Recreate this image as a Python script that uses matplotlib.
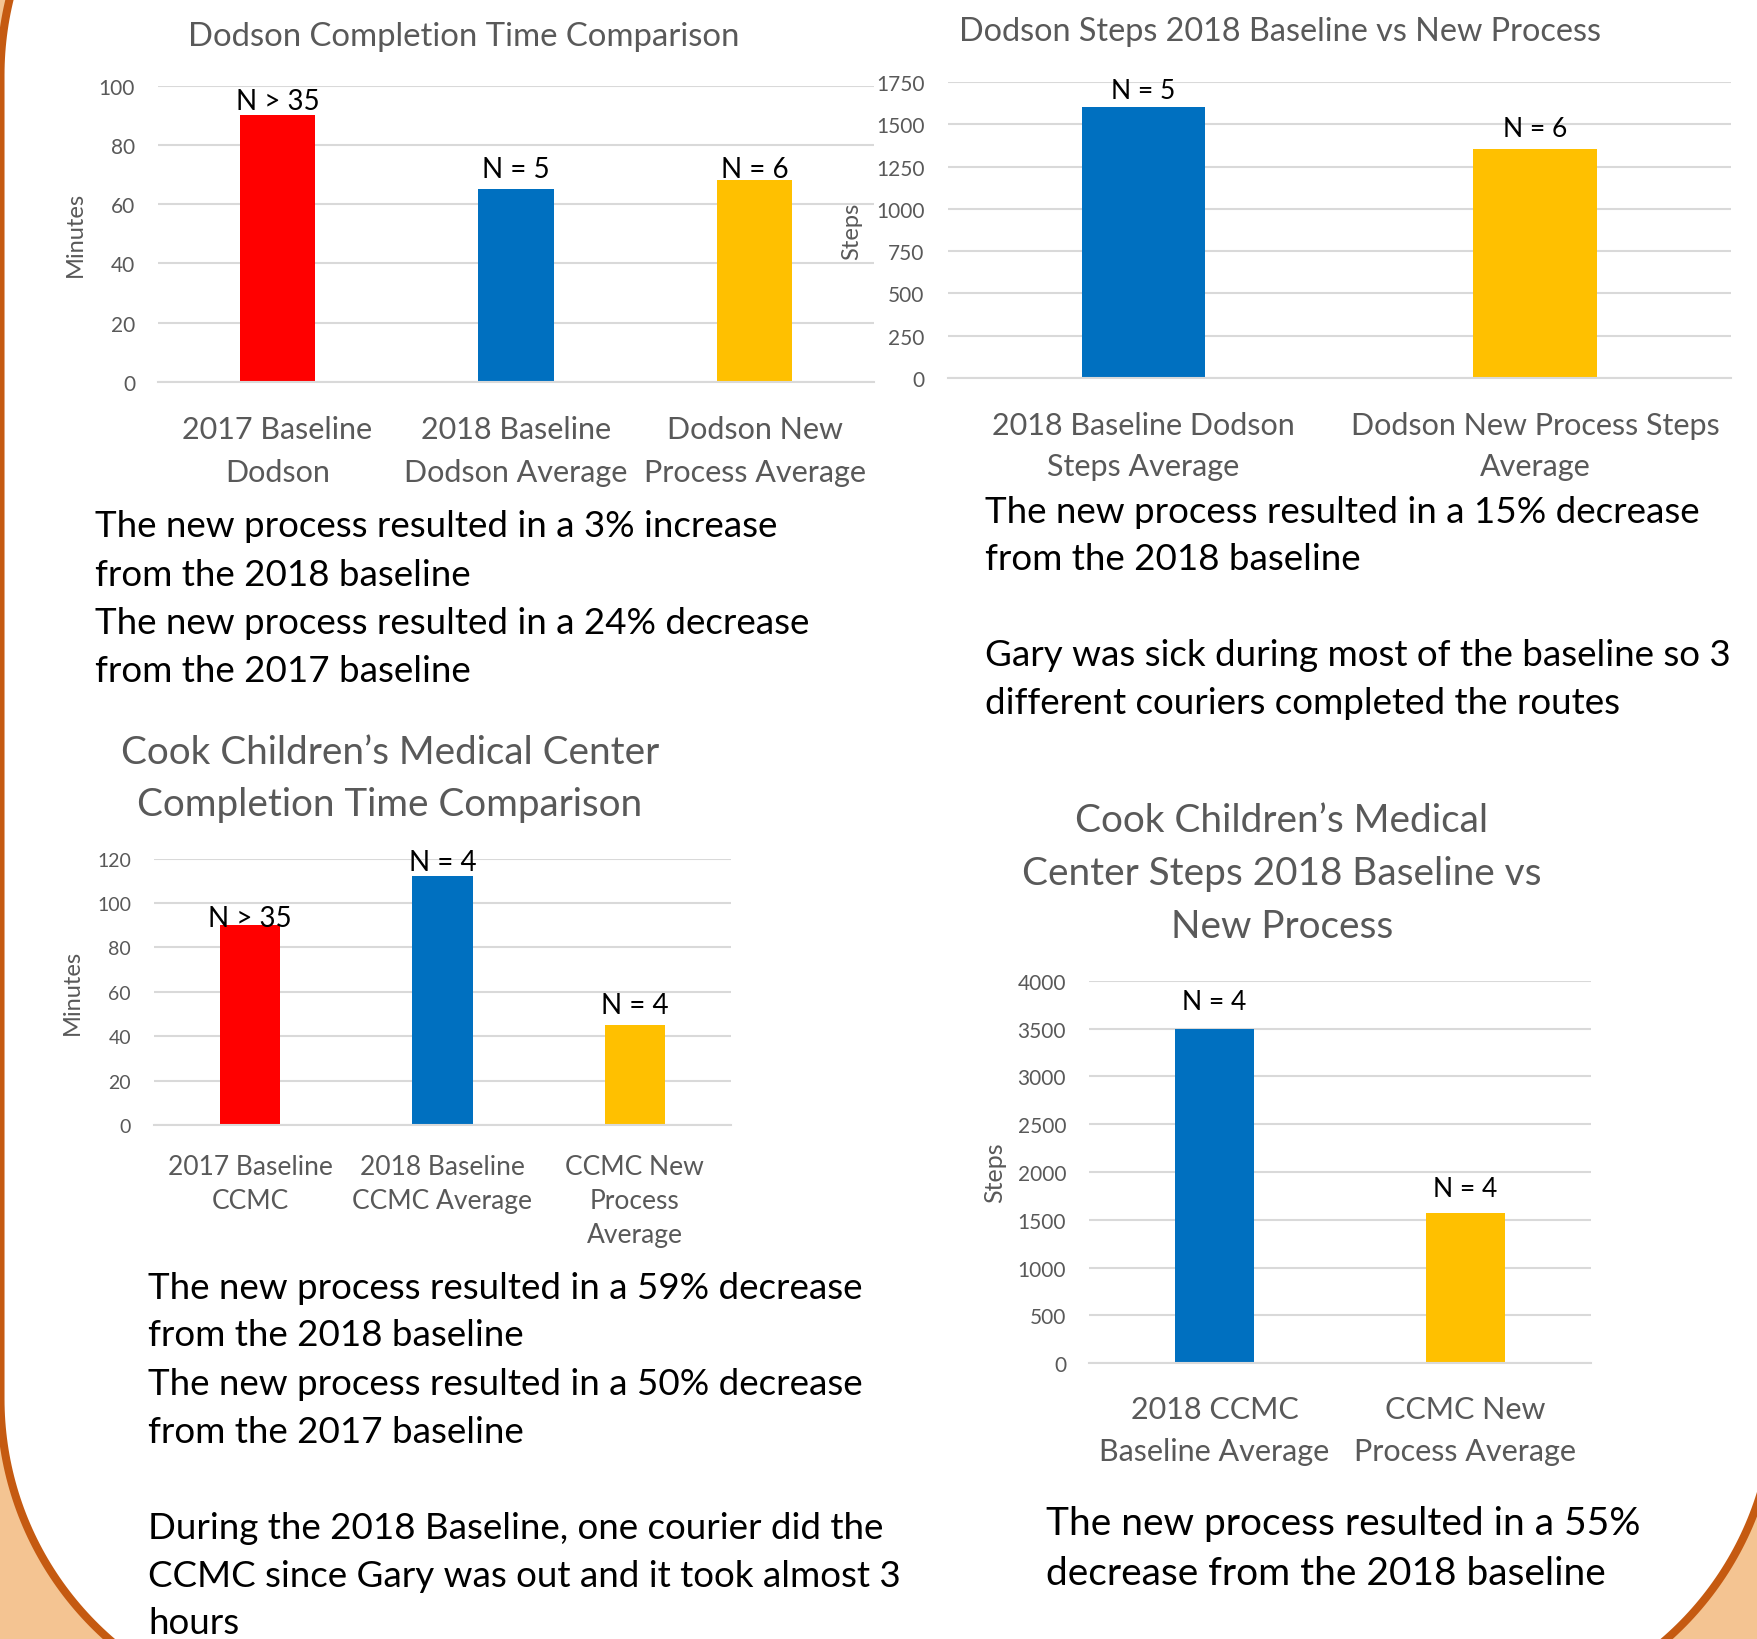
import matplotlib
matplotlib.use("Agg")
import numpy as np
import matplotlib.pyplot as plt
from matplotlib.patches import Polygon

plt.rcParams['font.family'] = ['Lato', 'DejaVu Sans']

# ---------------- data ----------------
c1_categories = ["2017 Baseline\nDodson", "2018 Baseline\nDodson Average", "Dodson New\nProcess Average"]
c1_values = [90, 65, 68]
c1_nlabels = ["N > 35", "N = 5", "N = 6"]
c1_ticks = [0, 20, 40, 60, 80, 100]

c2_categories = ["2018 Baseline Dodson\nSteps Average", "Dodson New Process Steps\nAverage"]
c2_values = [1600, 1355]
c2_nlabels = ["N = 5", "N = 6"]
c2_ticks = [0, 250, 500, 750, 1000, 1250, 1500, 1750]

c3_categories = ["2017 Baseline\nCCMC", "2018 Baseline\nCCMC Average", "CCMC New\nProcess\nAverage"]
c3_values = [90, 112, 45]
c3_nlabels = ["N > 35", "N = 4", "N = 4"]
c3_ticks = [0, 20, 40, 60, 80, 100, 120]

c4_categories = ["2018 CCMC\nBaseline Average", "CCMC New\nProcess Average"]
c4_values = [3500, 1570]
c4_nlabels = ["N = 4", "N = 4"]
c4_ticks = [0, 500, 1000, 1500, 2000, 2500, 3000, 3500, 4000]

RED, BLUE, GOLD = "#FF0000", "#0070C0", "#FFC000"
c1_colors = [RED, BLUE, GOLD]
c2_colors = [BLUE, GOLD]
c3_colors = [RED, BLUE, GOLD]
c4_colors = [BLUE, GOLD]

# label baselines (data units) for the N annotations
c1_label_y = [92.1, 69.2, 69.2]
c2_label_y = [1655, 1431]
c3_label_y = [89.6, 114.7, 50.5]
c4_label_y = [3709, 1748]

textA = ["The new process resulted in a 3% increase", "from the 2018 baseline",
         "The new process resulted in a 24% decrease", "from the 2017 baseline"]
textB = ["The new process resulted in a 15% decrease", "from the 2018 baseline", "",
         "Gary was sick during most of the baseline so 3", "different couriers completed the routes"]
textC = ["The new process resulted in a 59% decrease", "from the 2018 baseline",
         "The new process resulted in a 50% decrease", "from the 2017 baseline", "",
         "During the 2018 Baseline, one courier did the",
         "CCMC since Gary was out and it took almost 3", "hours"]
textD = ["The new process resulted in a 55%", "decrease from the 2018 baseline"]

# ---------------- figure ----------------
W, H = 1757, 1640
fig = plt.figure(figsize=(W / 100, H / 100), dpi=100)
fig.patch.set_facecolor("#F4C492")

bg = fig.add_axes([0, 0, 1, 1])
bg.set_xlim(0, W)
bg.set_ylim(H, 0)
bg.axis("off")


def rounded_rect(x0, y0, x1, y1, r, n=90):
    pts = []
    for (cx, cy, a0) in [(x0 + r, y0 + r, np.pi), (x1 - r, y0 + r, 1.5 * np.pi),
                         (x1 - r, y1 - r, 0.0), (x0 + r, y1 - r, 0.5 * np.pi)]:
        t = np.linspace(a0, a0 + 0.5 * np.pi, n)
        pts.append(np.column_stack([cx + r * np.cos(t), cy + r * np.sin(t)]))
    return np.vstack(pts)


bg.add_patch(Polygon(rounded_rect(0.5, -244, 1775, 1720, 320), closed=True,
                     fc="white", ec="#C55A11", lw=5.8, zorder=0))

GRAY = "#595959"
GRID = "#D9D9D9"


def px_axes(x0, x1, ytop, ybot):
    ax = fig.add_axes([x0 / W, 1 - ybot / H, (x1 - x0) / W, (ybot - ytop) / H])
    ax.patch.set_alpha(0)
    return ax


def bar_chart(ax, cats, vals, colors, nlabels, label_y, ticks, ylabel, ylab_x,
              tick_fs, xlab_fs, n_fs, ylab_fs, xpad, lspace):
    x = list(range(len(vals)))
    ax.bar(x, vals, width=0.315, color=colors, zorder=2)
    ax.set_xlim(-0.5, len(vals) - 0.5)
    ax.set_ylim(0, ticks[-1])
    ax.set_yticks(ticks)
    ax.set_xticks(x)
    ax.set_xticklabels(cats, fontsize=xlab_fs, color=GRAY, linespacing=lspace)
    ax.grid(axis="y", color=GRID, lw=1.5, zorder=0)
    ax.set_axisbelow(True)
    for s in ["top", "right", "left"]:
        ax.spines[s].set_visible(False)
    ax.spines["bottom"].set_color(GRID)
    ax.spines["bottom"].set_linewidth(1.5)
    ax.tick_params(axis="y", length=0, labelsize=tick_fs, labelcolor=GRAY, pad=16.5)
    ax.tick_params(axis="x", length=0, pad=xpad)
    ax.set_ylabel(ylabel, fontsize=ylab_fs, color=GRAY, va="center", ha="center")
    ax.yaxis.set_label_coords(ylab_x, 0.5)
    for xi, ly, lab in zip(x, label_y, nlabels):
        ax.text(xi, ly, lab, ha="center", va="baseline", fontsize=n_fs, color="black", zorder=3)


ax1 = px_axes(158, 874, 86.7, 382.7)
bar_chart(ax1, c1_categories, c1_values, c1_colors, c1_nlabels, c1_label_y, c1_ticks,
          "Minutes", -0.116, 15, 22, 20, 17, 24.3, 1.62)

ax2 = px_axes(947.5, 1731, 83, 379)
bar_chart(ax2, c2_categories, c2_values, c2_colors, c2_nlabels, c2_label_y, c2_ticks,
          "Steps", -0.122, 15, 22, 19, 17, 23.6, 1.58)

ax3 = px_axes(154, 731, 859.6, 1126.1)
bar_chart(ax3, c3_categories, c3_values, c3_colors, c3_nlabels, c3_label_y, c3_ticks,
          "Minutes", -0.142, 14, 19, 20, 17, 20.6, 1.45)

ax4 = px_axes(1089, 1591, 981.8, 1364.3)
bar_chart(ax4, c4_categories, c4_values, c4_colors, c4_nlabels, c4_label_y, c4_ticks,
          "Steps", -0.187, 15, 22, 19, 18, 22.8, 1.59)

# ---------------- titles ----------------
bg.text(464, 36.5, "Dodson Completion Time Comparison", ha="center", va="center", fontsize=23.7, color=GRAY)
bg.text(1280, 32, "Dodson Steps 2018 Baseline vs New Process", ha="center", va="center", fontsize=23.3, color=GRAY)
for yy, s in zip([752.6, 805.3], ["Cook Children\u2019s Medical Center", "Completion Time Comparison"]):
    bg.text(390, yy, s, ha="center", va="center", fontsize=27.8, color=GRAY)
for yy, s in zip([821.5, 874.5, 927.5], ["Cook Children\u2019s Medical", "Center Steps 2018 Baseline vs", "New Process"]):
    bg.text(1282, yy, s, ha="center", va="center", fontsize=27.9, color=GRAY)

# ---------------- notes ----------------
def block(x, ys, lines, fs):
    for yy, s in zip(ys, lines):
        if s:
            bg.text(x, yy, s, ha="left", va="center", fontsize=fs, color="black")

block(95, [526.8, 575.8, 623.8, 671.8], textA, 26.5)
block(985, [512.8, 559.8, 607.8, 655.8, 703.8], textB, 26.5)
block(148, [1288.8, 1335.8, 1384.8, 1432.8, 1480.8, 1528.8, 1576.8, 1623.8], textC, 26.5)
block(1046, [1524.3, 1574.3], textD, 28)

fig.savefig("out.png", dpi=100, facecolor=fig.get_facecolor())
